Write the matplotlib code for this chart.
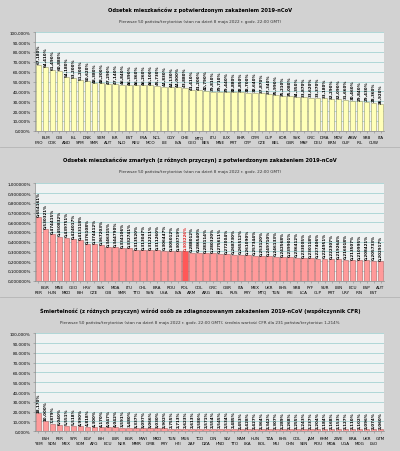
import numpy as np
import matplotlib.pyplot as plt
from matplotlib.ticker import FixedLocator

# Panel data

names1 = ['FRO', 'BLM', 'COK', 'GIB', 'AND', 'ISL', 'SPM', 'DNK', 'SMR', 'SXM',
          'AUT', 'ISR', 'NLD', 'EST', 'REU', 'FRA', 'MCO', 'NCL', 'LIE', 'GGY',
          'LVA', 'CHE', 'GEO', 'MTQ', 'BES', 'LTU', 'MNE', 'LUX', 'PRT', 'BHR',
          'CYP', 'CYM', 'CZE', 'GLP', 'BEL', 'KOR', 'GBR', 'SVK', 'MAF', 'GRC',
          'DEU', 'DMA', 'BRN', 'MDV', 'GUF', 'ABW', 'IRL', 'SRB', 'CUW', 'ITA']
vals1 = [67.180, 64.410, 61.490, 60.880, 54.180, 53.200, 51.200, 50.620, 48.380, 48.200,
         47.290, 47.140, 46.840, 46.390, 46.360, 46.260, 46.100, 45.730, 44.830, 44.130,
         44.000, 43.880, 41.410, 41.200, 40.790, 39.810, 39.710, 39.440, 38.880, 38.850,
         38.700, 38.640, 37.870, 37.340, 35.990, 35.210, 35.080, 34.350, 33.870, 33.620,
         33.370, 33.180, 32.290, 32.090, 31.660, 30.460, 29.840, 29.430, 28.360, 26.920]

names2 = ['PER', 'BGR', 'HUN', 'MNE', 'MKD', 'GEO', 'BIH', 'HRV', 'CZE', 'SVK',
          'GIB', 'MDA', 'SMR', 'LTU', 'TTO', 'CHL', 'SVN', 'BRA', 'USA', 'ROU',
          'LVA', 'POL', 'ARM', 'COL', 'ARG', 'GRC', 'BEL', 'GBR', 'RUS', 'ITA',
          'PRY', 'MEX', 'MTQ', 'UKR', 'TUN', 'BHS', 'PRI', 'SRB', 'LCA', 'PYF',
          'GLP', 'SUR', 'PRT', 'LBN', 'URY', 'ECU', 'IRN', 'ESP', 'EST', 'AUT']
vals2 = [0.654161, 0.530321, 0.474415, 0.450832, 0.439751, 0.424017, 0.413118, 0.376108, 0.374412, 0.367203,
         0.346315, 0.344790, 0.334106, 0.332741, 0.313520, 0.313047, 0.312211, 0.311260, 0.306447, 0.305012,
         0.303719, 0.303226, 0.288012, 0.286540, 0.283114, 0.280320, 0.275611, 0.272004, 0.268730, 0.265512,
         0.261090, 0.257344, 0.253120, 0.249710, 0.246133, 0.242568, 0.239901, 0.236412, 0.233005, 0.230118,
         0.227406, 0.224951, 0.222307, 0.219264, 0.216018, 0.213507, 0.210995, 0.208421, 0.205733, 0.202917]
highlight2 = 'POL'

names3 = ['YEM', 'ESH', 'SDN', 'PER', 'MEX', 'SYR', 'SOM', 'EGY', 'AFG', 'BIH',
          'ECU', 'LBR', 'NER', 'BGR', 'MMR', 'MWI', 'GMB', 'MKD', 'PRY', 'TUN',
          'HTI', 'MUS', 'ZAF', 'TCD', 'DZA', 'IDN', 'HND', 'SLV', 'TTO', 'NAM',
          'LKA', 'HUN', 'BOL', 'TZA', 'MLI', 'BHS', 'CHN', 'COL', 'SEN', 'JAM',
          'ROU', 'KHM', 'MDA', 'ZWE', 'UGA', 'BRA', 'MDG', 'UKR', 'LSO', 'GTM']
vals3 = [18.170, 10.000, 7.879, 6.040, 5.551, 5.518, 4.990, 4.818, 4.300, 4.170,
         4.047, 4.042, 3.591, 3.480, 3.337, 3.097, 3.066, 3.030, 2.902, 2.755,
         2.713, 2.623, 2.613, 2.580, 2.571, 2.554, 2.545, 2.534, 2.485, 2.453,
         2.428, 2.427, 2.364, 2.342, 2.307, 2.289, 2.268, 2.255, 2.243, 2.237,
         2.204, 2.184, 2.168, 2.153, 2.127, 2.110, 2.102, 2.096, 2.074, 2.060]

title1 = 'Odsetek mieszkańców z potwierdzonym zakażeniem 2019-nCoV'
title2 = 'Odsetek mieszkańców zmarłych (z różnych przyczyn) z potwierdzonym zakażeniem 2019-nCoV'
title3 = 'Śmiertelność (z różnych przyczyn) wśród osób ze zdiagnozowanym zakażeniem 2019-nCoV (współczynnik CFR)'
sub12 = 'Pierwsze 50 państw/terytoriów (stan na dzień 8 maja 2022 r. godz. 22:00 GMT)'
sub3 = ('Pierwsze 50 państw/terytoriów (stan na dzień 8 maja 2022 r. godz. 22:00 GMT); '
        'średnia wartość CFR dla 231 państw/terytoriów: 1,214%')

yellow = '#ffffb8'
yellow_edge = '#9c9c6c'
pink = '#ff9a9a'
pink_edge = '#b06464'
red = '#ff5858'

plt.rcParams['font.family'] = ['DejaVu Sans']

fig = plt.figure(figsize=(4, 4.52), dpi=100, facecolor='#d2d2d2')


def fmt(v, nd):
	return (f'{v:.{nd}f}%').replace('.', ',')


def panel(rect, names, vals, ymax, step, nd, color, edge, title, sub, ty, sy, hl=None):
	ax = fig.add_axes(rect)
	ax.set_facecolor('#eff2f2')
	x = np.arange(len(names))
	cols = [red if n == hl else color for n in names]
	bars = ax.bar(x, vals, width=0.8, color=cols, edgecolor=edge, linewidth=0.4, zorder=3)
	lab = ax.bar_label(bars, labels=[fmt(v, nd) for v in vals], rotation=90,
	                   padding=1, fontsize=2.9, fontweight='bold')
	for t, n in zip(lab, names):
		if n == hl:
			t.set_color('#e02020')
	ax.set_xlim(-0.5, len(names) - 0.5)
	ax.set_ylim(0, ymax)
	ticks = np.arange(0, ymax + step / 2, step)
	ax.set_yticks(ticks)
	ax.set_yticklabels([fmt(t, nd) for t in ticks], fontsize=3)
	ax.grid(axis='y', color='#a6d2d2', linewidth=0.6, zorder=0)
	ax.set_xticks(x[0::2], names[0::2])
	ax.xaxis.set_minor_locator(FixedLocator(x[1::2]))
	ax.set_xticklabels(names[1::2], minor=True)
	ax.tick_params(axis='x', which='major', labelsize=3, pad=5.5, length=1.2, width=0.4, color='#888888')
	ax.tick_params(axis='x', which='minor', labelsize=3, pad=2, length=1.2, width=0.4, color='#888888')
	ax.tick_params(axis='y', length=1.5, width=0.4, pad=1.5, color='#888888')
	for s in ['top', 'right']:
		ax.spines[s].set_visible(False)
	for s in ['left', 'bottom']:
		ax.spines[s].set_color('#8a8a8a')
		ax.spines[s].set_linewidth(0.5)
	fig.text(0.5, ty, title, ha='center', va='center', fontsize=3.7, fontweight='bold')
	fig.text(0.5, sy, sub, ha='center', va='center', fontsize=3.0, color='#333333')
	return ax


panel([0.0875, 0.7086, 0.8725, 0.2177], names1, vals1, 100, 10, 3, yellow, yellow_edge,
      title1, sub12, 0.978, 0.951)
panel([0.0875, 0.3768, 0.8725, 0.2155], names2, vals2, 1.0, 0.1, 6, pink, pink_edge,
      title2, sub12, 0.646, 0.620, hl=highlight2)
panel([0.0875, 0.0436, 0.8725, 0.2168], names3, vals3, 100, 10, 3, pink, pink_edge,
      title3, sub3, 0.313, 0.286)

# thin separators between the three charts
for yy in [1 - 148 / 452, 1 - 298 / 452]:
	fig.add_artist(plt.Line2D([0, 1], [yy, yy], color='#b5b5b5', linewidth=0.6))

fig.savefig('out.png', dpi=100, facecolor=fig.get_facecolor())
